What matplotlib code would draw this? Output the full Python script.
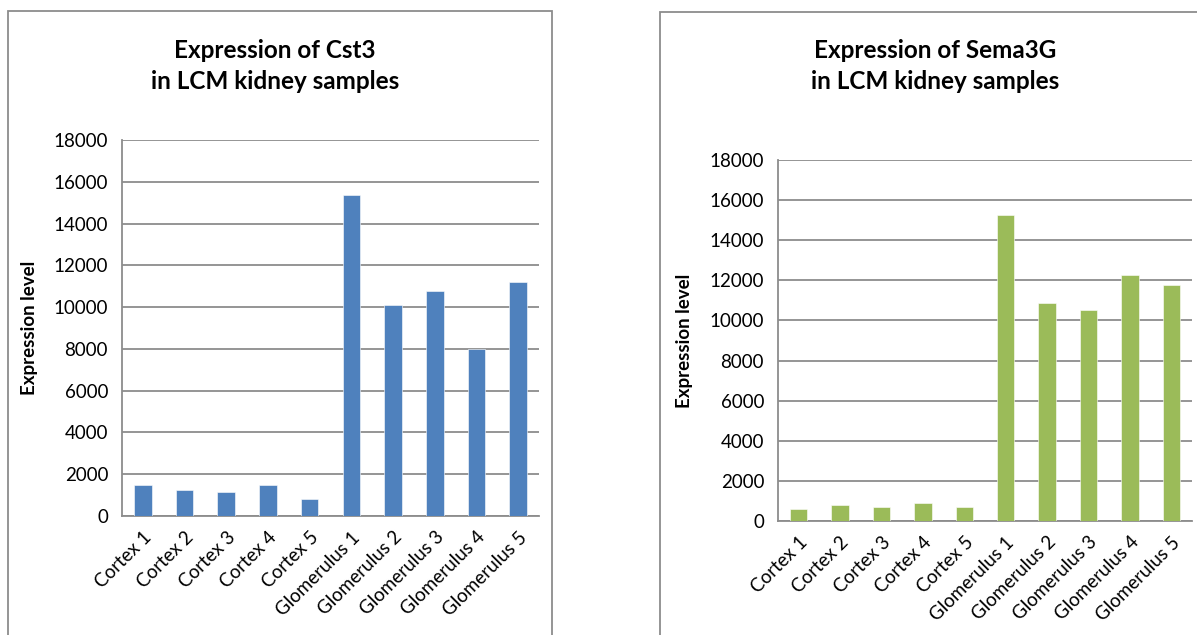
import matplotlib.pyplot as plt
from matplotlib.patches import Rectangle

plt.rcParams['font.family'] = ['Lato', 'DejaVu Sans']

samples = ['Cortex 1', 'Cortex 2', 'Cortex 3', 'Cortex 4', 'Cortex 5',
           'Glomerulus 1', 'Glomerulus 2', 'Glomerulus 3', 'Glomerulus 4', 'Glomerulus 5']
cst3 = [1490, 1260, 1170, 1500, 830, 15380, 10110, 10750, 8000, 11210]
sema3g = [580, 815, 715, 900, 700, 15270, 10850, 10520, 12250, 11760]
y_ticks = [0, 2000, 4000, 6000, 8000, 10000, 12000, 14000, 16000, 18000]

W, H = 1197, 635
fig = plt.figure(figsize=(W / 100, H / 100), dpi=100)


def px_box(x0, x1, y_top, y_bot):
    # pixel extents -> figure fraction [left, bottom, width, height]
    return [x0 / W, 1 - y_bot / H, (x1 - x0) / W, (y_bot - y_top) / H]


def draw_panel(box, values, color, title, title_xy, ylab_x, frame):
    # chart area border (open at the bottom / right edge of the image)
    fx0, fy0, fx1 = frame
    fig.patches.append(Rectangle((fx0 / W, -0.05), (fx1 - fx0) / W, 1.05 - fy0 / H,
                                 transform=fig.transFigure, fill=False,
                                 edgecolor='#8c8c8c', linewidth=1.3))
    ax = fig.add_axes(box)
    x = range(len(samples))
    ax.bar(x, values, width=0.42, color=color, edgecolor='white', linewidth=0.4, zorder=3)
    ax.set_xlim(-0.5, len(samples) - 0.5)
    ax.set_ylim(0, 18000)
    ax.set_yticks(y_ticks)
    ax.set_yticklabels([str(t) for t in y_ticks], fontsize=13.5)
    ax.set_xticks(list(x))
    ax.set_xticklabels(samples, rotation=45, ha='right', rotation_mode='anchor', fontsize=13.5)
    ax.tick_params(axis='y', length=0, pad=10)
    ax.tick_params(axis='x', length=0, pad=9)
    ax.yaxis.grid(True, color='#8c8c8c', linewidth=1.3, zorder=0)
    ax.set_axisbelow(True)
    for side in ['top', 'right']:
        ax.spines[side].set_visible(False)
    for side in ['left', 'bottom']:
        ax.spines[side].set_color('#8c8c8c')
        ax.spines[side].set_linewidth(1.3)
    fig.text(title_xy[0] / W, 1 - title_xy[1] / H, title, ha='center', va='center',
             fontsize=17.5, fontweight='bold', linespacing=1.45)
    ax.set_ylabel('Expression level', fontsize=13.5, fontweight='bold')
    ax.yaxis.set_label_coords((ylab_x - box[0] * W) / (box[2] * W), 0.5)
    return ax


draw_panel(px_box(122, 539, 140, 516), cst3, '#4f81bd',
           'Expression of Cst3\nin LCM kidney samples', (275, 66), 38, (8, 11, 552))
draw_panel(px_box(778, 1192, 160, 521), sema3g, '#9bbb59',
           'Expression of Sema3G\nin LCM kidney samples', (935, 66), 693, (660, 12, 1230))

fig.savefig('out.png', dpi=100, facecolor='white')
